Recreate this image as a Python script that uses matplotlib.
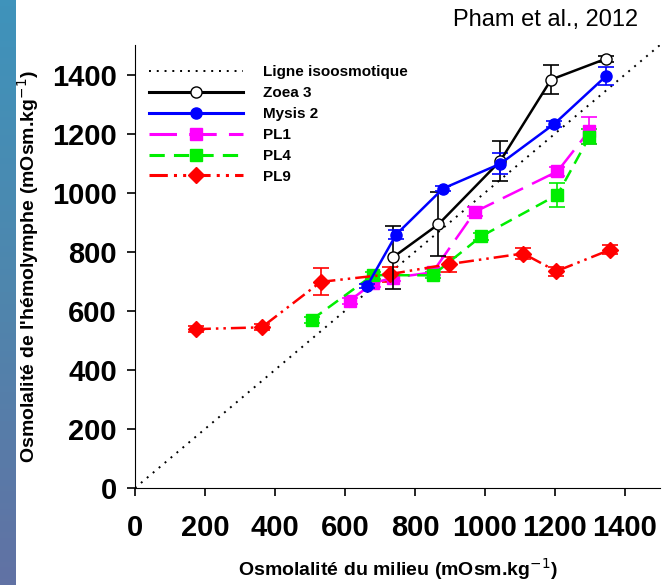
import numpy as np
import matplotlib
matplotlib.use('Agg')
import matplotlib.pyplot as plt
from matplotlib.colors import LinearSegmentedColormap
from matplotlib.lines import Line2D

# data
zoea_x = [737, 867, 1044, 1189, 1347]
zoea_y = [781, 893, 1108, 1383, 1454]
zoea_e = [107, 108, 67, 50, 10]

mysis_x = [663, 746, 880, 1044, 1198, 1347]
mysis_y = [684, 858, 1014, 1098, 1233, 1396]
mysis_e = [8, 15, 10, 35, 10, 30]

pl1_x = [613, 680, 737, 850, 971, 1207, 1298]
pl1_y = [634, 694, 712, 730, 935, 1072, 1210]
pl1_e = [10, 15, 10, 10, 15, 15, 45]

pl4_x = [505, 680, 850, 989, 1207, 1298]
pl4_y = [570, 721, 720, 852, 993, 1189]
pl4_e = [10, 12, 10, 12, 40, 25]

pl9_x = [174, 362, 531, 728, 897, 1109, 1204, 1358]
pl9_y = [538, 544, 698, 724, 758, 794, 734, 807]
pl9_e = [10, 10, 46, 25, 25, 20, 15, 15]

iso = [0, 1500]

plt.rcParams['font.family'] = ['Liberation Sans', 'DejaVu Sans']

fig = plt.figure(figsize=(6.63, 5.85), dpi=100)

# blue gradient strip on the left edge
strip = fig.add_axes([0, 0, 16 / 663, 1])
cmap = LinearSegmentedColormap.from_list('strip', ['#3f93bb', '#4f86ad', '#6172a4'])
strip.imshow(np.linspace(0, 1, 100).reshape(-1, 1), aspect='auto', cmap=cmap)
strip.axis('off')

ax = fig.add_axes([135 / 663, 1 - 488 / 585, 525 / 663, 443 / 585])

eb = dict(ms=8, capsize=6, elinewidth=1.2, capthick=1.2)
styles = [
    dict(color='black', lw=1.8, marker='o', mfc='white', mec='black'),
    dict(color='#0000ff', lw=1.8, marker='o'),
    dict(color='#ff00ff', lw=1.8, ls=(0, (9, 4)), marker='s'),
    dict(color='#00ee00', lw=1.8, ls=(0, (5, 3)), marker='s'),
    dict(color='#ff0000', lw=1.8, ls=(0, (6, 2, 1, 2, 1, 2)), marker='D'),
]
series = [(zoea_x, zoea_y, zoea_e, 'Zoea 3'), (mysis_x, mysis_y, mysis_e, 'Mysis 2'),
          (pl1_x, pl1_y, pl1_e, 'PL1'), (pl4_x, pl4_y, pl4_e, 'PL4'),
          (pl9_x, pl9_y, pl9_e, 'PL9')]

ax.plot(iso, iso, ls=(0, (1, 3)), color='black', lw=1.4)
handles = [Line2D([], [], ls=(0, (1, 3)), color='black', lw=1.4)]
labels = ['Ligne isoosmotique']
for (x, y, e, name), st in zip(series, styles):
    z = 4 if name in ('Zoea 3', 'Mysis 2') else 3
    ax.errorbar(x, y, yerr=e, zorder=z, **st, **eb)
    leg_st = dict(st, lw=2.2)
    handles.append(Line2D([], [], ms=8, **leg_st))
    labels.append(name)

ax.set_xlim(0, 1500)
ax.set_ylim(0, 1500)
ax.set_xticks(range(0, 1401, 200))
ax.set_yticks(range(0, 1401, 200))
for s in ['top', 'right']:
    ax.spines[s].set_visible(False)
ax.tick_params(length=6, width=1.2, labelsize=21)
ax.tick_params(axis='x', pad=13)
ax.tick_params(axis='y', pad=7)
for lab in ax.get_xticklabels() + ax.get_yticklabels():
    lab.set_fontweight('bold')

ax.set_xlabel('Osmolalité du milieu (mOsm.kg$^{-1}$)', fontsize=14, fontweight='bold',
              labelpad=10)
ax.set_ylabel("Osmolalité de l'hémolymphe (mOsm.kg$^{-1}$)", fontsize=14, fontweight='bold',
              labelpad=8)

ax.legend(handles, labels, loc='upper left', bbox_to_anchor=(0.0, 0.985), frameon=False,
          handlelength=6.2, handletextpad=1.3, labelspacing=0.45,
          prop={'weight': 'bold', 'size': 11})

fig.text(0.962, 0.966, 'Pham et al., 2012', ha='right', va='center', fontsize=17)

fig.savefig('out.png', dpi=100)
